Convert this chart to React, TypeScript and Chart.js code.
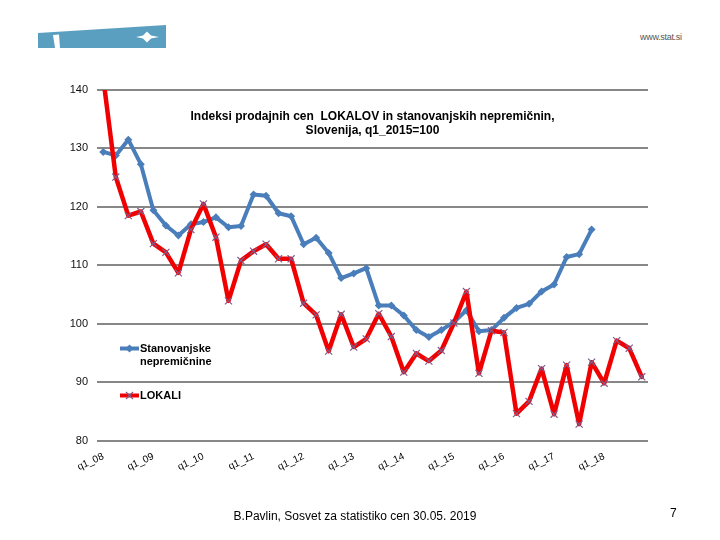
import React, { useEffect, useRef } from "react";
import { Chart, registerables } from "chart.js";

Chart.register(...registerables);

const years = ["08", "09", "10", "11", "12", "13", "14", "15", "16", "17", "18"];
const quarters = ["q1", "q2", "q3", "q4"];
const categories = years.flatMap((y) => quarters.map((q) => `${q}_${y}`));

const stanovanjske = [
  129.4, 128.8, 131.5, 127.3, 119.4, 116.8, 115.1, 117.0, 117.4, 118.2,
  116.5, 116.7, 122.1, 121.9, 118.9, 118.4, 113.6, 114.7, 112.1, 107.8,
  108.6, 109.5, 103.1, 103.1, 101.4, 98.9, 97.7, 98.9, 100.3, 102.3,
  98.7, 98.9, 101.0, 102.7, 103.4, 105.5, 106.7, 111.4, 111.9, 116.1,
];

const lokali = [
  142.0, 125.1, 118.5, 119.2, 113.7, 112.2, 108.7, 116.1, 120.5, 114.8,
  103.9, 110.8, 112.4, 113.6, 111.1, 111.1, 103.5, 101.5, 95.3, 101.6,
  96.0, 97.4, 101.7, 97.8, 91.7, 94.9, 93.6, 95.4, 100.1, 105.5,
  91.5, 98.8, 98.5, 84.6, 86.7, 92.3, 84.5, 92.9, 82.8, 93.4,
  89.8, 97.1, 95.8, 90.9,
];

const yMin = 80;
const yMax = 140;
const yStep = 10;

const titleLines = [
  "Indeksi prodajnih cen  LOKALOV in stanovanjskih nepremičnin,",
  "Slovenija, q1_2015=100",
];
const legendStan = ["Stanovanjske", "nepremičnine"];
const legendLok = ["LOKALI"];

const BLUE = "#4A7EBB";
const RED = "#F00000";
const CROSS = "#7E5C8E";

const overlayPlugin = {
  id: "overlay",
  afterDraw(chart: any) {
    const ctx = chart.ctx as CanvasRenderingContext2D;
    const a = chart.chartArea;
    ctx.save();
    // title
    ctx.fillStyle = "#000";
    ctx.font = 'bold 12px "Liberation Sans", Arial, sans-serif';
    ctx.textAlign = "center";
    ctx.textBaseline = "middle";
    const cx = (a.left + a.right) / 2;
    ctx.fillText(titleLines[0], cx, a.top + 27);
    ctx.fillText(titleLines[1], cx, a.top + 41);

    // legend
    const lx = a.left + 23;
    const drawSample = (y: number, color: string, kind: string) => {
      ctx.strokeStyle = color;
      ctx.lineWidth = 4;
      ctx.beginPath();
      ctx.moveTo(lx, y);
      ctx.lineTo(lx + 19, y);
      ctx.stroke();
      const mx = lx + 9.5;
      if (kind === "diamond") {
        ctx.fillStyle = color;
        ctx.beginPath();
        ctx.moveTo(mx, y - 4);
        ctx.lineTo(mx + 4, y);
        ctx.lineTo(mx, y + 4);
        ctx.lineTo(mx - 4, y);
        ctx.closePath();
        ctx.fill();
      } else {
        ctx.strokeStyle = CROSS;
        ctx.lineWidth = 1.2;
        ctx.beginPath();
        ctx.moveTo(mx - 3.5, y - 3.5);
        ctx.lineTo(mx + 3.5, y + 3.5);
        ctx.moveTo(mx + 3.5, y - 3.5);
        ctx.lineTo(mx - 3.5, y + 3.5);
        ctx.stroke();
      }
    };
    drawSample(a.top + 258.5, BLUE, "diamond");
    drawSample(a.top + 305.5, RED, "cross");
    ctx.fillStyle = "#000";
    ctx.font = 'bold 11px "Liberation Sans", Arial, sans-serif';
    ctx.textAlign = "left";
    ctx.textBaseline = "middle";
    ctx.fillText(legendStan[0], lx + 20, a.top + 258.5);
    ctx.fillText(legendStan[1], lx + 20, a.top + 271.5);
    ctx.fillText(legendLok[0], lx + 20, a.top + 305.5);
    ctx.restore();
  },
};

export default function App() {
  const ref = useRef<HTMLCanvasElement | null>(null);

  useEffect(() => {
    if (!ref.current) return;
    const chart = new Chart(ref.current, {
      type: "line",
      data: {
        labels: categories,
        datasets: [
          {
            label: "Stanovanjske nepremičnine",
            data: stanovanjske,
            borderColor: BLUE,
            backgroundColor: BLUE,
            borderWidth: 4,
            borderJoinStyle: "round",
            borderCapStyle: "round",
            pointStyle: "rectRot",
            pointRadius: 4,
            pointBorderWidth: 0,
            pointBackgroundColor: BLUE,
            tension: 0,
            order: 1,
          },
          {
            label: "LOKALI",
            data: lokali,
            borderColor: RED,
            backgroundColor: RED,
            borderWidth: 4.5,
            borderJoinStyle: "round",
            borderCapStyle: "round",
            pointStyle: "crossRot",
            pointRadius: 5,
            pointBorderWidth: 1.2,
            pointBorderColor: CROSS,
            tension: 0,
            order: 0,
          },
        ],
      },
      options: {
        animation: false,
        responsive: false,
        devicePixelRatio: 1,
        layout: { padding: { top: 90, right: 72, bottom: 0, left: 0 } },
        plugins: {
          legend: { display: false },
          title: { display: false },
          tooltip: { enabled: false },
        },
        scales: {
          x: {
            offset: true,
            grid: { display: false, drawTicks: false },
            border: { display: false },
            ticks: {
              autoSkip: false,
              minRotation: 25,
              maxRotation: 25,
              padding: 10,
              color: "#000",
              font: { family: '"Liberation Sans", Arial, sans-serif', size: 10 },
              callback: (_v: any, i: number) => (i % 4 === 0 ? categories[i] : ""),
            },
            afterFit: (s: any) => {
              s.height = 99.5;
            },
          },
          y: {
            min: yMin,
            max: yMax,
            grid: { color: "#878787", lineWidth: 2, drawTicks: false },
            border: { display: false },
            ticks: {
              stepSize: yStep,
              padding: 9,
              color: "#111",
              font: { family: '"Liberation Sans", Arial, sans-serif', size: 11 },
            },
            afterFit: (s: any) => {
              s.width = 97;
            },
          },
        },
      },
      plugins: [overlayPlugin],
    });
    return () => chart.destroy();
  }, []);

  return (
    <div
      style={{
        position: "fixed",
        left: 0,
        top: 0,
        width: 720,
        height: 540,
        background: "#fff",
        overflow: "hidden",
        fontFamily: '"Liberation Sans", Arial, sans-serif',
      }}
    >
      <svg width={720} height={60} style={{ position: "absolute", left: 0, top: 0 }}>
        <polygon points="38,33 166,25 166,48 38,48" fill="#5A9FBF" />
        <polygon points="53,35 59,34.5 60,48 55,48" fill="#fff" />
        <polygon
          points="136,37 143,35.5 147,31.5 151,35.5 159,37 151,38.5 147,42.5 143,38.5"
          fill="#fff"
        />
      </svg>
      <div
        style={{
          position: "absolute",
          left: 640,
          top: 32,
          fontSize: 9,
          color: "#555",
          letterSpacing: -0.3,
        }}
      >
        www.stat.si
      </div>
      <canvas
        ref={ref}
        width={720}
        height={540}
        style={{ position: "absolute", left: 0, top: 0, width: 720, height: 540 }}
      />
      <div
        style={{
          position: "absolute",
          left: 0,
          width: 710,
          top: 509,
          textAlign: "center",
          fontSize: 12,
          color: "#000",
        }}
      >
        B.Pavlin, Sosvet za statistiko cen 30.05. 2019
      </div>
      <div style={{ position: "absolute", left: 670, top: 506, fontSize: 12, color: "#000" }}>7</div>
    </div>
  );
}
